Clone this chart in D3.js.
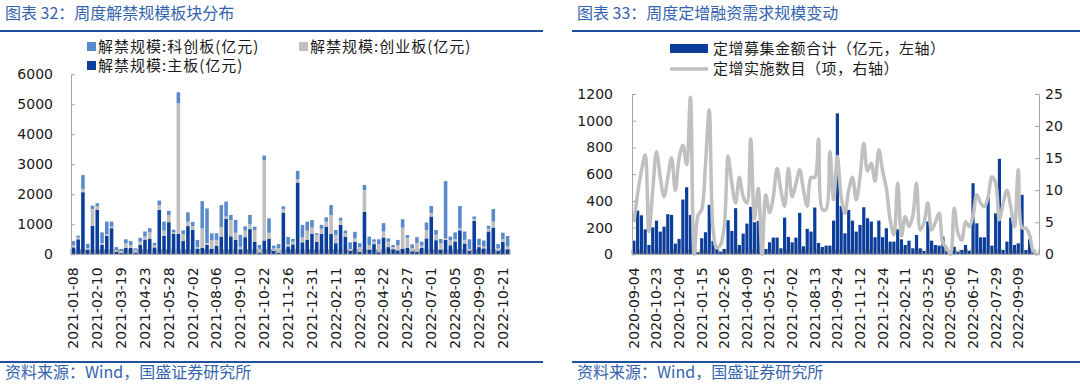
<!DOCTYPE html>
<html>
<head>
<meta charset="utf-8">
<script src="https://cdn.jsdelivr.net/npm/d3@7"></script>
<style>
  body { margin: 0; background: #fff; }
  svg { display: block; }
</style>
</head>
<body>
<svg id="chart" width="1080" height="386"></svg>
<script>
// ---------- 图表32 数据：周度解禁规模 (亿元) ----------
const weeksL = [
  '2021-01-08','2021-01-15','2021-01-22','2021-01-29','2021-02-05','2021-02-10','2021-02-19','2021-02-26','2021-03-05','2021-03-12',
  '2021-03-19','2021-03-26','2021-04-02','2021-04-09','2021-04-16','2021-04-23','2021-04-30','2021-05-07','2021-05-14','2021-05-21',
  '2021-05-28','2021-06-04','2021-06-11','2021-06-18','2021-06-25','2021-07-02','2021-07-09','2021-07-16','2021-07-23','2021-07-30',
  '2021-08-06','2021-08-13','2021-08-20','2021-08-27','2021-09-03','2021-09-10','2021-09-17','2021-09-24','2021-10-08','2021-10-15',
  '2021-10-22','2021-10-29','2021-11-05','2021-11-12','2021-11-19','2021-11-26','2021-12-03','2021-12-10','2021-12-17','2021-12-24',
  '2021-12-31','2022-01-07','2022-01-14','2022-01-21','2022-01-28','2022-02-11','2022-02-18','2022-02-25','2022-03-04','2022-03-11',
  '2022-03-18','2022-03-25','2022-04-01','2022-04-08','2022-04-15','2022-04-22','2022-04-29','2022-05-06','2022-05-13','2022-05-20',
  '2022-05-27','2022-06-02','2022-06-10','2022-06-17','2022-06-24','2022-07-01','2022-07-08','2022-07-15','2022-07-22','2022-07-29',
  '2022-08-05','2022-08-12','2022-08-19','2022-08-26','2022-09-02','2022-09-09','2022-09-16','2022-09-23','2022-09-30','2022-10-14',
  '2022-10-21','2022-10-28'
]
// 主板
const mainBoard = [
  230, 500, 2070, 150, 950, 1490, 310, 610, 870, 90,
  50, 220, 210, 60, 310, 490, 520, 230, 1480, 620,
  1070, 690, 680, 440, 940, 810, 190, 220, 310, 190,
  280, 590, 1190, 600, 480, 170, 570, 840, 410, 60,
  460, 520, 120, 60, 1390, 260, 330, 2390, 400, 490,
  690, 420, 680, 920, 680, 370, 980, 590, 120, 410,
  80, 1420, 160, 340, 70, 560, 240, 170, 130, 190,
  220, 100, 90, 220, 530, 1260, 470, 160, 480, 300,
  430, 800, 360, 110, 1110, 240, 200, 760, 890, 110,
  420, 170
]
// 创业板
const chiNext = [
  80, 60, 110, 50, 560, 110, 60, 60, 50, 50,
  60, 150, 100, 90, 110, 100, 210, 70, 160, 170,
  240, 50, 4350, 230, 150, 120, 50, 640, 60, 280,
  200, 320, 70, 540, 240, 80, 220, 160, 400, 120,
  2680, 200, 70, 150, 120, 70, 90, 110, 160, 300,
  200, 230, 170, 170, 630, 280, 140, 110, 60, 120,
  160, 720, 140, 80, 270, 200, 180, 70, 180, 700,
  330, 100, 290, 70, 280, 120, 180, 210, 50, 170,
  70, 70, 120, 70, 70, 70, 60, 90, 200, 100,
  90, 90
]
// 科创板
const starBoard = [
  130, 60, 460, 150, 110, 100, 360, 420, 170, 100,
  70, 130, 130, 50, 130, 170, 140, 80, 150, 300,
  140, 80, 370, 130, 310, 150, 240, 910, 1160, 230,
  220, 730, 500, 170, 430, 400, 140, 310, 110, 130,
  150, 480, 100, 130, 90, 250, 90, 280, 420, 300,
  250, 50, 130, 140, 330, 160, 100, 90, 220, 220,
  130, 170, 290, 80, 160, 280, 110, 70, 170, 280,
  90, 130, 190, 130, 250, 230, 160, 140, 1910, 120,
  230, 740, 280, 320, 80, 210, 200, 100, 420, 130,
  210, 350
]
const ticksL = [0, 1000, 2000, 3000, 4000, 5000, 6000]

// ---------- 图表33 数据：周度定增 ----------
const weeksR = [
  '2020-09-04','2020-09-11','2020-09-18','2020-09-25','2020-10-09','2020-10-16','2020-10-23','2020-10-30','2020-11-06','2020-11-13',
  '2020-11-20','2020-11-27','2020-12-04','2020-12-11','2020-12-18','2020-12-25','2020-12-31','2021-01-08','2021-01-15','2021-01-22',
  '2021-01-29','2021-02-05','2021-02-10','2021-02-19','2021-02-26','2021-03-05','2021-03-12','2021-03-19','2021-03-26','2021-04-02',
  '2021-04-09','2021-04-16','2021-04-23','2021-04-30','2021-05-07','2021-05-14','2021-05-21','2021-05-28','2021-06-04','2021-06-11',
  '2021-06-18','2021-06-25','2021-07-02','2021-07-09','2021-07-16','2021-07-23','2021-07-30','2021-08-06','2021-08-13','2021-08-20',
  '2021-08-27','2021-09-03','2021-09-10','2021-09-17','2021-09-24','2021-10-08','2021-10-15','2021-10-22','2021-10-29','2021-11-05',
  '2021-11-12','2021-11-19','2021-11-26','2021-12-03','2021-12-10','2021-12-17','2021-12-24','2021-12-31','2022-01-07','2022-01-14',
  '2022-01-21','2022-01-28','2022-02-11','2022-02-18','2022-02-25','2022-03-04','2022-03-11','2022-03-18','2022-03-25','2022-04-01',
  '2022-04-08','2022-04-15','2022-04-22','2022-04-29','2022-05-06','2022-05-13','2022-05-20','2022-05-27','2022-06-02','2022-06-10',
  '2022-06-17','2022-06-24','2022-07-01','2022-07-08','2022-07-15','2022-07-22','2022-07-29','2022-08-05','2022-08-12','2022-08-19',
  '2022-08-26','2022-09-02','2022-09-09','2022-09-16','2022-09-23','2022-09-30','2022-10-14','2022-10-21'
]
// 定增募集金额合计（亿元）
const raiseAmount = [
  102, 327, 292, 187, 70, 202, 252, 170, 207, 300,
  295, 80, 115, 410, 502, 295, 0, 15, 120, 165,
  370, 100, 40, 20, 40, 255, 175, 345, 70, 155,
  230, 355, 240, 250, 0, 40, 90, 125, 125, 45,
  275, 130, 90, 125, 310, 60, 190, 170, 350, 85,
  55, 65, 65, 252, 1055, 362, 157, 332, 252, 170,
  220, 352, 270, 245, 128, 252, 128, 195, 95, 95,
  187, 112, 70, 102, 45, 145, 45, 25, 245, 102,
  70, 65, 132, 27, 0, 57, 20, 32, 70, 27,
  532, 232, 127, 127, 427, 65, 307, 715, 32, 95,
  275, 70, 82, 445, 32, 112, 20, 0
]
// 定增实施数目（项）
const dealCount = [
  5, 9.5, 13, 15.5, 3.5, 10, 16, 12, 9, 12,
  15, 10, 15, 17, 14, 24.5, 0, 6, 7, 14,
  22.5, 4, 1, 1.5, 4.5, 15.3, 11, 8, 12, 9,
  8, 18, 5.5, 10.3, 0, 9.3, 6.5, 9, 13.4, 10,
  7.5, 13.4, 9, 11, 13.2, 10, 7.5, 12, 12, 18,
  7, 7, 16, 8.5, 15.3, 9, 6.4, 10, 12, 8.5,
  12, 17.3, 13, 14.2, 11.4, 16.3, 13, 10.3, 5.4, 3,
  11.1, 2.8, 5.9, 4.3, 6, 11.1, 3.8, 5, 8, 3.8,
  5, 6.4, 1.7, 1, 0, 7.2, 3.3, 2.2, 5.1, 4.3,
  6, 9.3, 8, 7.4, 9, 12.1, 11.1, 5.4, 8, 10,
  7.4, 4.3, 13.2, 4.1, 4.1, 3, 0.5, 0
]
const ticksRL = [0, 200, 400, 600, 800, 1000, 1200]
const ticksRR = [0, 5, 10, 15, 20, 25]

// ---------- 样式 ----------
const cjk = "'Noto Sans CJK SC', sans-serif"
const num = "'DejaVu Sans', sans-serif"
const color = {
  main: '#0b3d9b',
  star: '#5a8acb',
  chinext: '#bfbfbf',
  line: '#c0c0c0',
  rule: '#1f4f9e',
  title: '#3563ae',
  axis: '#a6a6a6',
  text: '#1a1a1a'
}
const baseY = 254.3

const svg = d3.select('#chart')
svg.append('rect').attr('width', 1080).attr('height', 386).attr('fill', '#fff')

// 标题、分隔线、来源
function frame(x0, x1, title) {
  svg.append('text').text(title)
    .attr('x', x0 + 5).attr('y', 19)
    .attr('font-family', cjk).attr('font-size', '16px').attr('fill', color.title)
  svg.append('rect').attr('x', x0).attr('y', 30).attr('width', x1 - x0).attr('height', 2).attr('fill', color.rule)
  svg.append('rect').attr('x', x0).attr('y', 361).attr('width', x1 - x0).attr('height', 2).attr('fill', color.rule)
  svg.append('text').text('资料来源：Wind，国盛证券研究所')
    .attr('x', x0 + 5).attr('y', 378)
    .attr('font-family', cjk).attr('font-size', '16px').attr('fill', color.title)
}
frame(0, 543, '图表 32：周度解禁规模板块分布')
frame(572, 1080, '图表 33：周度定增融资需求规模变动')

// 通用：x轴底部刻度 + 日期标签
function bottomAxis(x, cats, every) {
  const step = x.step()
  const [r0, r1] = x.range()
  const g = svg.append('g')
  g.selectAll('line.tick').data(d3.range(cats.length + 1)).enter().append('line')
    .attr('x1', (i) => r0 + i * step).attr('x2', (i) => r0 + i * step)
    .attr('y1', baseY - 5).attr('y2', baseY)
    .attr('stroke', '#808080').attr('stroke-width', 1)
  g.append('line').attr('x1', r0).attr('x2', r1).attr('y1', baseY).attr('y2', baseY)
    .attr('stroke', color.axis).attr('stroke-width', 1)
  g.selectAll('text').data(cats.filter((d, i) => i % every === 0)).enter().append('text')
    .text((d) => d)
    .attr('transform', (d) => `translate(${x(d) + x.bandwidth() / 2}, ${baseY + 13}) rotate(-90)`)
    .attr('dy', '0.35em')
    .attr('text-anchor', 'end')
    .attr('font-family', num).attr('font-size', '14px').attr('fill', color.text)
}

function styleAxis(g) {
  g.select('.domain').attr('stroke', color.axis)
  g.selectAll('.tick line').attr('stroke', color.axis)
  g.selectAll('.tick text').attr('font-family', num).attr('font-size', '14px').attr('fill', color.text)
}

// ---------- 图表32 ----------
const xL = d3.scaleBand().domain(weeksL).range([71, 510]).paddingInner(0.25).paddingOuter(0.125)
const yL = d3.scaleLinear().domain([0, 6000]).range([baseY, 74.3])

const rowsL = weeksL.map((d, i) => ({ date: d, main: mainBoard[i], chinext: chiNext[i], star: starBoard[i] }))
const stackL = d3.stack().keys(['main', 'chinext', 'star'])(rowsL)

svg.append('g').selectAll('g').data(stackL).enter().append('g')
  .attr('fill', (s) => color[s.key])
  .selectAll('rect').data((s) => s).enter().append('rect')
  .attr('x', (d) => xL(d.data.date))
  .attr('width', xL.bandwidth())
  .attr('y', (d) => yL(d[1]))
  .attr('height', (d) => yL(d[0]) - yL(d[1]))

bottomAxis(xL, weeksL, 5)

svg.append('g').attr('transform', 'translate(71,0)')
  .call(d3.axisLeft(yL).tickValues(ticksL).tickFormat(d3.format('d'))
    .tickSizeInner(-4).tickSizeOuter(0).tickPadding(18))
  .call(styleAxis)

// 图例
const legendL = [
  { key: 'star', label: '解禁规模:科创板(亿元)', x: 87, y: 46.5 },
  { key: 'chinext', label: '解禁规模:创业板(亿元)', x: 299, y: 46.5 },
  { key: 'main', label: '解禁规模:主板(亿元)', x: 87, y: 65.5 }
]
const lg = svg.append('g').selectAll('g').data(legendL).enter().append('g')
  .attr('transform', (d) => `translate(${d.x}, ${d.y})`)
lg.append('rect').attr('x', 0).attr('y', -4.5).attr('width', 9).attr('height', 9).attr('fill', (d) => color[d.key])
lg.append('text').text((d) => d.label)
  .attr('x', 11).attr('dy', '0.35em')
  .attr('font-family', cjk).attr('font-size', '15px').attr('letter-spacing', '1px').attr('fill', color.text)

// ---------- 图表33 ----------
const xR = d3.scaleBand().domain(weeksR).range([632, 1039]).paddingInner(0.15).paddingOuter(0.075)
const yRL = d3.scaleLinear().domain([0, 1200]).range([baseY, 94])
const yRR = d3.scaleLinear().domain([0, 25]).range([baseY, 94])

svg.append('g').selectAll('rect').data(weeksR).enter().append('rect')
  .attr('x', (d) => xR(d))
  .attr('width', xR.bandwidth())
  .attr('y', (d, i) => yRL(raiseAmount[i]))
  .attr('height', (d, i) => baseY - yRL(raiseAmount[i]))
  .attr('fill', color.main)

bottomAxis(xR, weeksR, 6)

const countLine = d3.line()
  .x((d, i) => xR(weeksR[i]) + xR.bandwidth() / 2)
  .y((d) => yRR(d))
  .curve(d3.curveCatmullRom.alpha(0.5))
svg.append('path').datum(dealCount)
  .attr('d', countLine)
  .attr('fill', 'none').attr('stroke', color.line).attr('stroke-width', 3.5)
  .attr('stroke-linejoin', 'round')

svg.append('g').attr('transform', 'translate(632,0)')
  .call(d3.axisLeft(yRL).tickValues(ticksRL).tickFormat(d3.format('d'))
    .tickSizeInner(-4).tickSizeOuter(0).tickPadding(19))
  .call(styleAxis)
svg.append('g').attr('transform', 'translate(1039,0)')
  .call(d3.axisRight(yRR).tickValues(ticksRR).tickFormat(d3.format('d'))
    .tickSizeInner(-4).tickSizeOuter(0).tickPadding(6))
  .call(styleAxis)

// 图例
const lgR = svg.append('g')
lgR.append('rect').attr('x', 670).attr('y', 44).attr('width', 38).attr('height', 9).attr('fill', color.main)
lgR.append('text').text('定增募集金额合计（亿元，左轴）')
  .attr('x', 713).attr('y', 48.5).attr('dy', '0.35em')
  .attr('font-family', cjk).attr('font-size', '15px').attr('letter-spacing', '0.5px').attr('fill', color.text)
lgR.append('line').attr('x1', 670).attr('x2', 708).attr('y1', 69).attr('y2', 69)
  .attr('stroke', color.line).attr('stroke-width', 3.5)
lgR.append('text').text('定增实施数目（项，右轴）')
  .attr('x', 713).attr('y', 69).attr('dy', '0.35em')
  .attr('font-family', cjk).attr('font-size', '15px').attr('letter-spacing', '0.5px').attr('fill', color.text)
</script>
</body>
</html>
